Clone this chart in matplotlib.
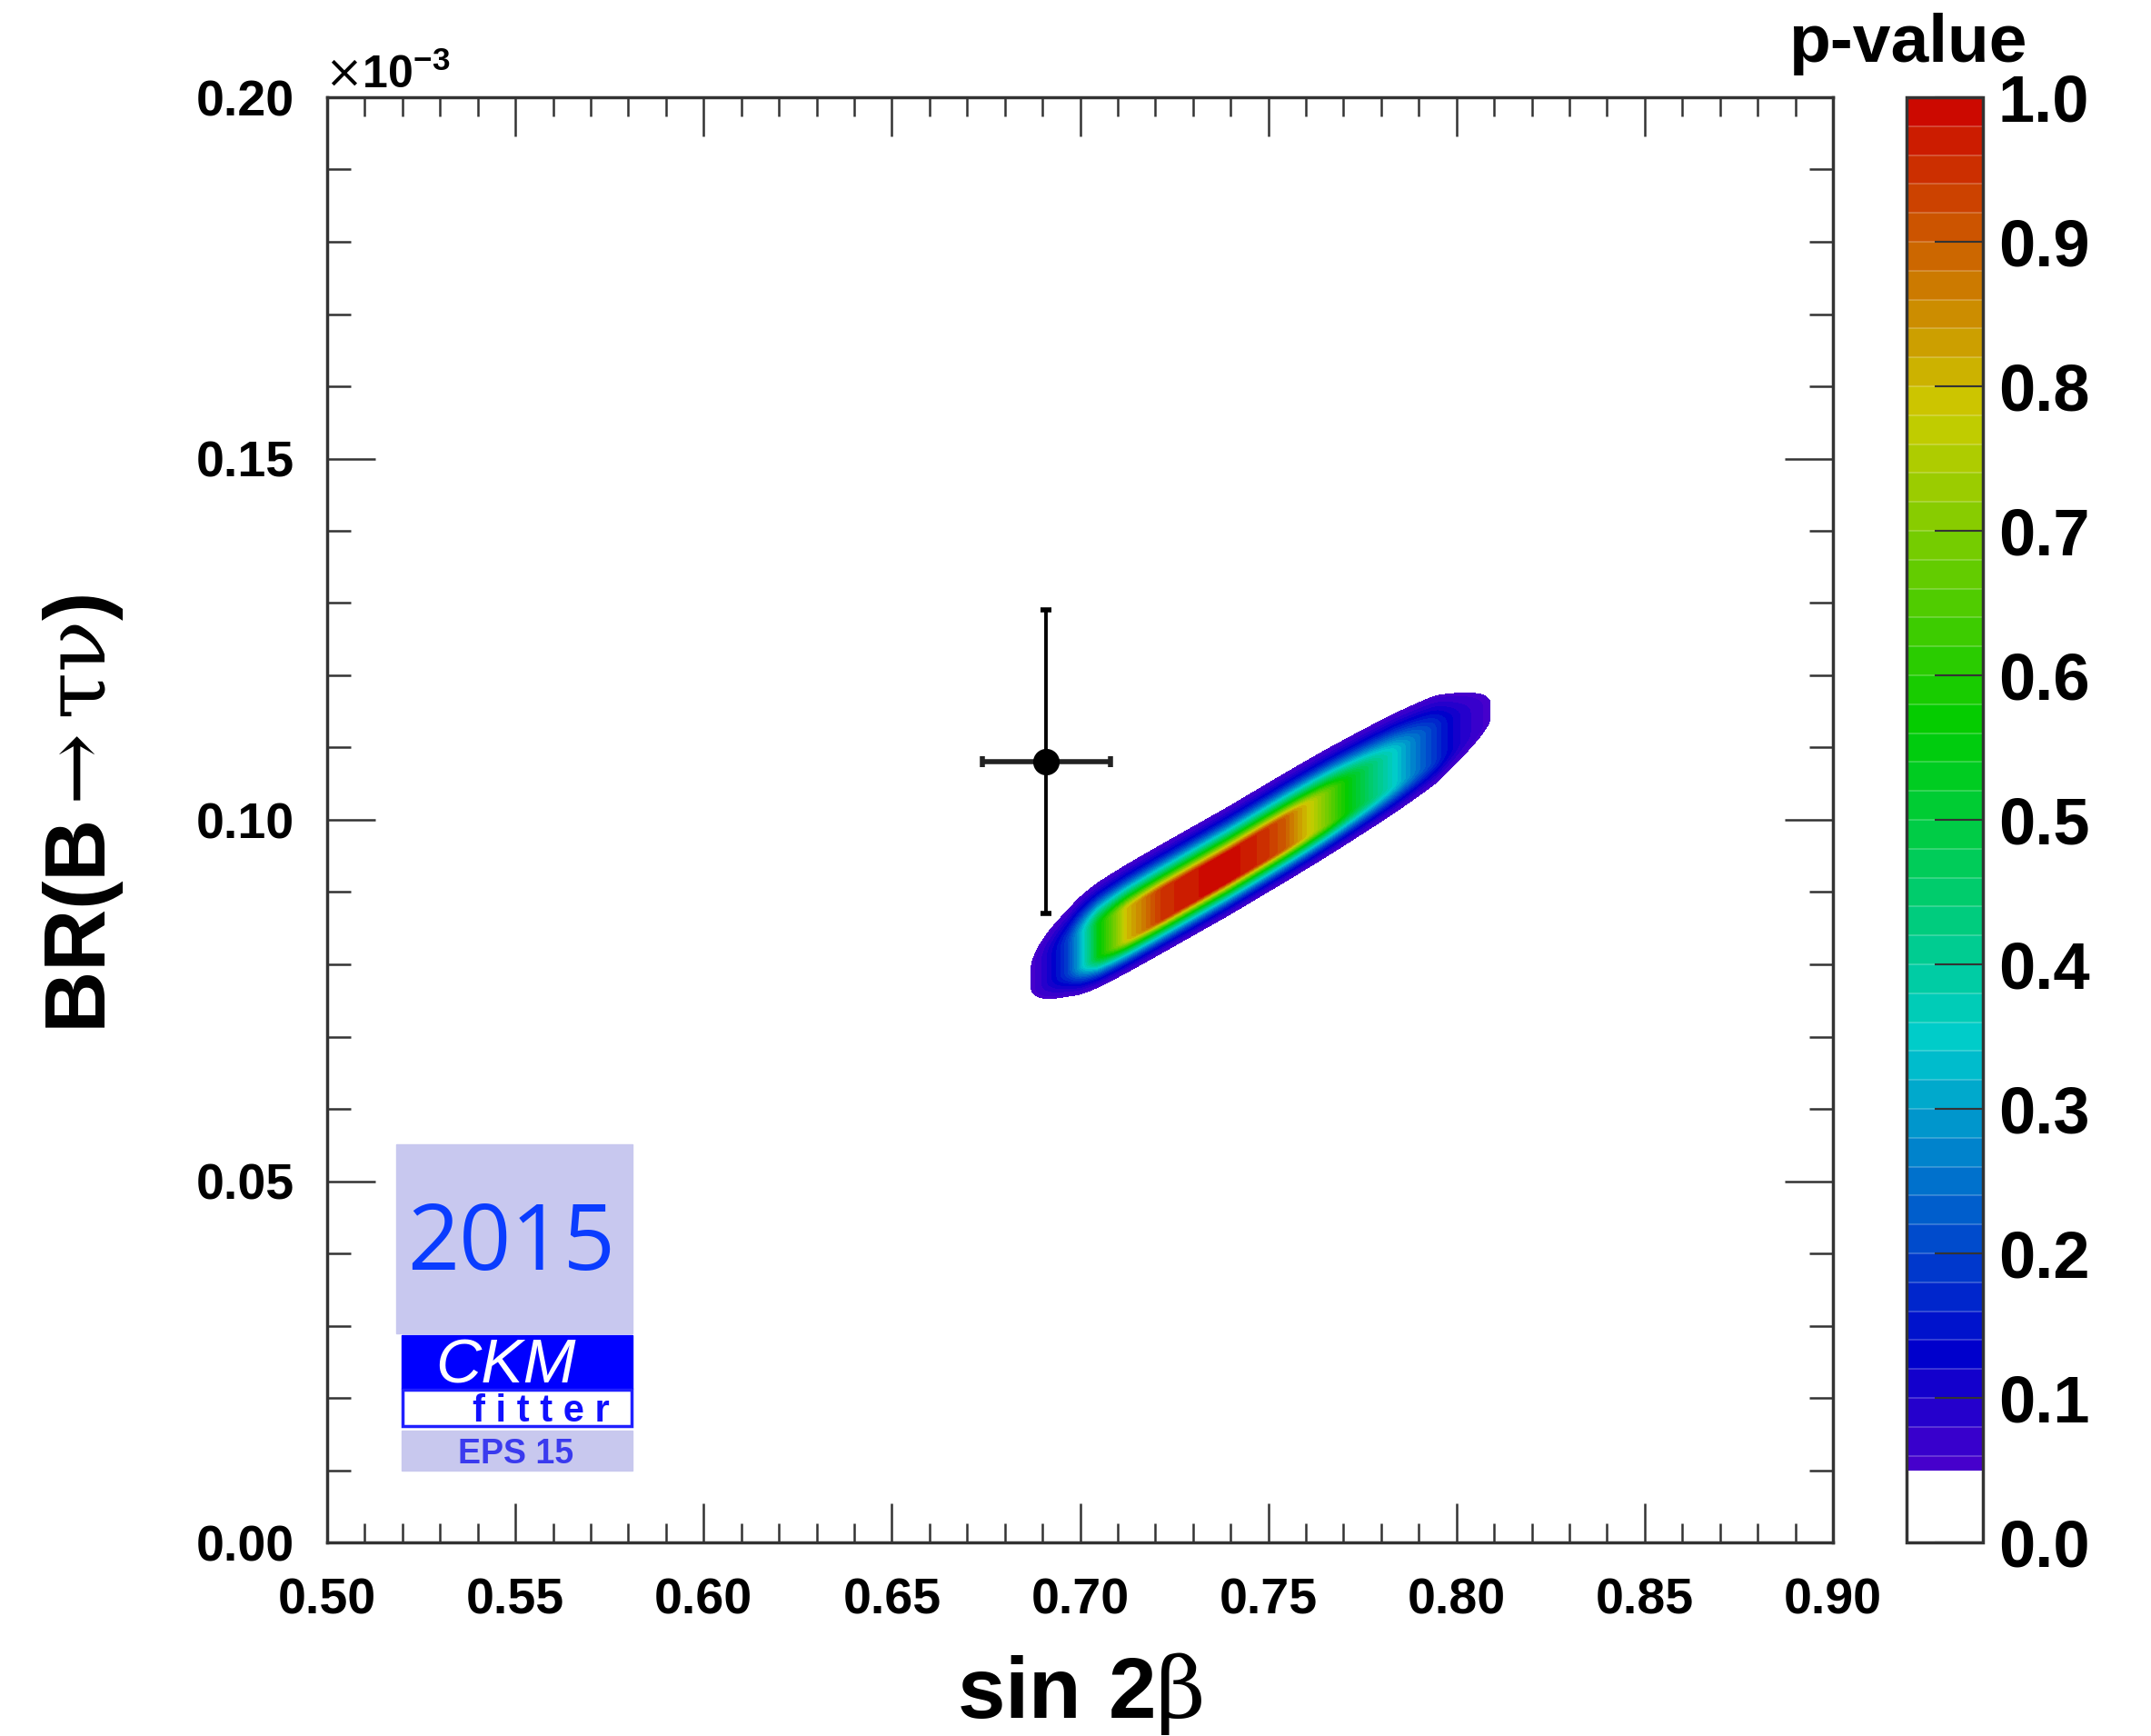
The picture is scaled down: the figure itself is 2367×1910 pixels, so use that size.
import colorsys
import math
import numpy as np
import matplotlib
matplotlib.use("Agg")
import matplotlib.pyplot as plt
from matplotlib.colors import ListedColormap, BoundaryNorm
from matplotlib.patches import Rectangle
from matplotlib.ticker import MultipleLocator

plt.rcParams["font.family"] = ["Liberation Sans", "DejaVu Sans"]
plt.rcParams["mathtext.fontset"] = "custom"
plt.rcParams["mathtext.rm"] = "DejaVu Serif"
plt.rcParams["mathtext.bf"] = "Liberation Sans:bold"
plt.rcParams["mathtext.it"] = "DejaVu Serif:italic"

# measurement (sin 2beta, BR in units of 1e-3)
meas_x = 0.691
meas_xerr = 0.017
meas_y = 0.108
meas_yerr = 0.021

# fit: p-value read along the centre of the band
ridge_x = [0.683, 0.687, 0.6912, 0.6968, 0.7009, 0.7048, 0.7125, 0.722, 0.738,
           0.749, 0.7545, 0.760, 0.765, 0.7716, 0.7836, 0.7933, 0.801, 0.809, 0.813]
ridge_p = [0.003, 0.05, 0.10, 0.20, 0.35, 0.55, 0.80, 0.95, 1.00,
           0.95, 0.90, 0.80, 0.70, 0.55, 0.35, 0.20, 0.10, 0.05, 0.003]
# centre line of the band and half width of its flat top
centre_x = [0.683, 0.700, 0.7394, 0.795, 0.813]
centre_y = [0.0769, 0.0819, 0.0935, 0.1107, 0.1163]
core_halfwidth = [0.0010, 0.0020, 0.0020, 0.0020, 0.0006]
sigma_up = 0.0032
sigma_down = 0.0024

x_ticks = [0.50, 0.55, 0.60, 0.65, 0.70, 0.75, 0.80, 0.85, 0.90]
y_ticks = [0.00, 0.05, 0.10, 0.15, 0.20]
cbar_ticks = [0.0, 0.1, 0.2, 0.3, 0.4, 0.5, 0.6, 0.7, 0.8, 0.9, 1.0]
p_levels = [0.0, 0.05] + [round(0.06 + 0.02 * i, 2) for i in range(48)]

W, H = 2367, 1910
def fx(px):
    return px / W
def fy(py):
    return 1 - py / H

fig = plt.figure(figsize=(W / 100, H / 100), dpi=100)
ax = fig.add_axes([fx(360), fy(1697), 1657 / W, 1590 / H])
cax = fig.add_axes([fx(2098), fy(1697), 84 / W, 1590 / H])

# p-value <-> z (1 dof)
zz = np.linspace(0, 6, 3001)
pz = np.array([math.erfc(v / math.sqrt(2)) for v in zz])

ridge_z = np.interp(ridge_p, pz[::-1], zz[::-1])

gx = np.linspace(0.5, 0.9, 1400)
gy = np.linspace(0.0, 0.2, 1400)
X, Y = np.meshgrid(gx, gy)
z_along = np.interp(X, ridge_x, ridge_z, left=6, right=6)
dy = Y - np.interp(X, centre_x, centre_y)
core = np.interp(X, centre_x, core_halfwidth)
sig = np.where(dy > 0, sigma_up, sigma_down)
z_across = np.clip(np.abs(dy) - core, 0, None) / sig
P = np.interp(np.sqrt(z_along ** 2 + z_across ** 2), zz, pz)

# ROOT-like rainbow palette
mids = [(a + b) / 2 for a, b in zip(p_levels[1:-1], p_levels[2:])]
colors = ["white"] + [colorsys.hls_to_rgb(max(0, 262 * (1 - m) / 0.95) / 360, 0.4, 1.0) for m in mids]
cmap = ListedColormap(colors)
norm = BoundaryNorm(p_levels, cmap.N)

cs = ax.contourf(X, Y, P, levels=p_levels, cmap=cmap, norm=norm)

# measurement
ax.errorbar(meas_x, meas_y, xerr=meas_xerr, fmt="none", ecolor="#222222",
            elinewidth=4, capsize=4, capthick=4, zorder=5)
ax.errorbar(meas_x, meas_y, yerr=meas_yerr, fmt="o", color="black", ms=20,
            elinewidth=2.8, capsize=4, capthick=4, zorder=6)

ax.set_xlim(0.5, 0.9)
ax.set_ylim(0.0, 0.2)
ax.set_xticks(x_ticks)
ax.set_xticklabels([f"{v:.2f}" for v in x_ticks])
ax.set_yticks(y_ticks)
ax.set_yticklabels([f"{v:.2f}" for v in y_ticks])
ax.xaxis.set_minor_locator(MultipleLocator(0.01))
ax.yaxis.set_minor_locator(MultipleLocator(0.01))
ax.tick_params(which="both", direction="in", top=True, right=True,
               color="#333333", width=1.8)
ax.tick_params(axis="x", which="major", length=31, pad=28, labelsize=40)
ax.tick_params(axis="x", which="minor", length=15)
ax.tick_params(axis="y", which="major", length=38, pad=26, labelsize=40)
ax.tick_params(axis="y", which="minor", length=19)
for lab in ax.get_xticklabels() + ax.get_yticklabels():
    lab.set_fontweight("bold")
for s in ax.spines.values():
    s.set_linewidth(2.5)
    s.set_color("#333333")

# colorbar
cb = fig.colorbar(cs, cax=cax, spacing="proportional", ticks=cbar_ticks)
cb.minorticks_off()
cax.set_yticklabels([f"{v:.1f}" for v in cbar_ticks])
cax.tick_params(direction="in", length=38, width=1.5, color="black",
                labelsize=52, pad=12)
for lab in cax.get_yticklabels():
    lab.set_fontweight("bold")
for lev in p_levels[2:-1]:
    cax.axhline(lev, color="white", alpha=0.25, lw=1.2)
cb.outline.set_linewidth(2.5)
cb.outline.set_edgecolor("#333333")

# texts
fig.text(fx(2231), fy(68), "p-value", ha="right", va="baseline",
         fontsize=54, fontweight="bold")
fig.text(fx(357), fy(97), r"$\times\mathbf{10^{-3}}$", ha="left",
         va="baseline", fontsize=36)
fig.text(fx(1188), fy(1890), r"$\mathbf{sin\ 2}\mathrm{β}$", ha="center",
         va="baseline", fontsize=68)
fig.text(fx(92), fy(895), r"$\mathbf{BR(B}\,\mathrm{→\,τν}\mathbf{)}$",
         rotation=90, ha="center", va="center", fontsize=68)

# CKMfitter logo
fig.patches.append(Rectangle((fx(436), fy(1467)), 260 / W, 208 / H,
                             transform=fig.transFigure, color="#c8c8ef", zorder=3))
fig.text(fx(563), fy(1397), "2015", ha="center", va="baseline", fontsize=72,
         family="Open Sans", color="#0a3cff", zorder=4)
fig.patches.append(Rectangle((fx(442), fy(1528)), 254 / W, 59 / H,
                             transform=fig.transFigure, color="#0000ff", zorder=3))
fig.text(fx(556), fy(1521), "CKM", ha="center", va="baseline", fontsize=50,
         style="italic", color="white", zorder=4)
fig.patches.append(Rectangle((fx(443), fy(1569)), 252 / W, 40 / H,
                             transform=fig.transFigure, facecolor="white",
                             edgecolor="#2020ff", lw=2.5, zorder=3))
fig.text(fx(595), fy(1564), "f i t t e r", ha="center", va="baseline",
         fontsize=30, fontweight="bold", color="#1010ff", zorder=4)
fig.patches.append(Rectangle((fx(442), fy(1618)), 254 / W, 44 / H,
                             transform=fig.transFigure, color="#c8c8ee", zorder=3))
fig.text(fx(568), fy(1610), "EPS 15", ha="center", va="baseline", fontsize=27,
         fontweight="bold", color="#3a3aee", zorder=4)

fig.savefig("out.png", dpi=100)
